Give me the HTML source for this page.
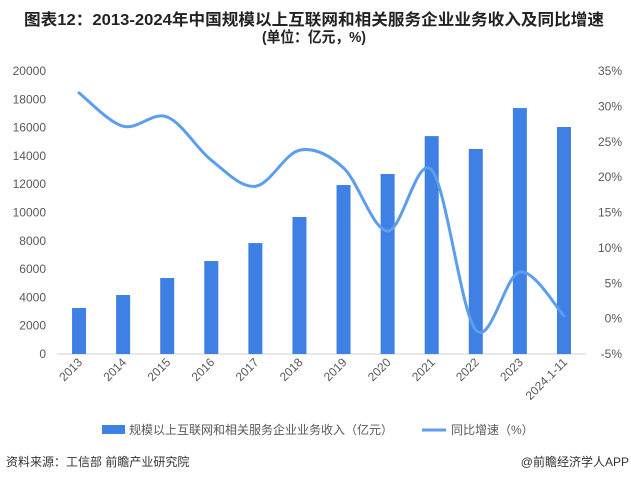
<!DOCTYPE html>
<html><head><meta charset="utf-8"><style>
body{margin:0;background:#fff;}
svg{display:block;font-family:"Liberation Sans","Noto Sans CJK SC",sans-serif;}
</style></head><body>
<svg id="chart" width="631" height="479" viewBox="0 0 631 479">
<text x="314" y="25" text-anchor="middle" font-size="16" font-weight="bold" fill="#222" textLength="580" lengthAdjust="spacingAndGlyphs">图表12：2013-2024年中国规模以上互联网和相关服务企业业务收入及同比增速</text>
<text x="314" y="42" text-anchor="middle" font-size="15" font-weight="bold" fill="#222" textLength="104" lengthAdjust="spacingAndGlyphs">(单位：亿元，%)</text>
<g id="left-axis"></g>
<g id="right-axis"></g>
<line x1="57" y1="354" x2="586" y2="354" stroke="#d0d0d0" stroke-width="1"/>
<g id="bars"></g>
<g id="line"></g>
<g id="xlabels"></g>
<g>
<rect x="102" y="425" width="23" height="9" fill="#3f80e4"/>
<text x="129" y="434" font-size="12" fill="#595959">规模以上互联网和相关服务企业业务收入（亿元）</text>
<line x1="422" y1="430" x2="446" y2="430" stroke="#5c9ded" stroke-width="3"/>
<text x="451" y="434" font-size="12" fill="#595959">同比增速（%）</text>
</g>
<text x="6" y="466" font-size="12" fill="#333">资料来源：工信部 前瞻产业研究院</text>
<text x="629" y="466" text-anchor="end" font-size="12" fill="#333">@前瞻经济学人APP</text>
</svg>
<script>
const categories=["2013","2014","2015","2016","2017","2018","2019","2020","2021","2022","2023","2024.1-11"];
const revenue=[3250,4170,5370,6570,7840,9680,11940,12720,15400,14490,17380,16040];
const growth=[31.9,27.2,28.5,22.4,18.7,23.8,21.3,12.4,21.0,-1.6,6.6,0.4];
const leftTicks=[0,2000,4000,6000,8000,10000,12000,14000,16000,18000,20000];
const rightTicks=[-5,0,5,10,15,20,25,30,35];
const NS="http://www.w3.org/2000/svg";
const yTop=71,yBot=354,x0=57,x1=586;
const yL=v=>yBot-(v/20000)*(yBot-yTop);
const yR=v=>yBot-((v+5)/40)*(yBot-yTop);
const step=(x1-x0)/categories.length;
const xC=i=>x0+step*(i+0.5);
function mk(tag,attrs,parent){const e=document.createElementNS(NS,tag);for(const k in attrs)e.setAttribute(k,attrs[k]);parent.appendChild(e);return e;}
const la=document.getElementById('left-axis');
leftTicks.forEach(t=>{const e=mk('text',{x:46,y:yL(t)+4,'text-anchor':'end','font-size':12,fill:'#595959'},la);e.textContent=t;

});
const ra=document.getElementById('right-axis');
rightTicks.forEach(t=>{const e=mk('text',{x:622,y:yR(t)+4,'text-anchor':'end','font-size':12,fill:'#595959'},ra);e.textContent=t+'%';

});
const bg=document.getElementById('bars');
revenue.forEach((v,i)=>{const r=mk('rect',{x:xC(i)-7,y:yL(v),width:14,height:yBot-yL(v),fill:'#3f80e4'},bg);

});
const pts=growth.map((v,i)=>[xC(i),yR(v)]);
let d='M'+pts[0][0]+','+pts[0][1];
for(let i=0;i<pts.length-1;i++){const p0=pts[i-1]||pts[i],p1=pts[i],p2=pts[i+1],p3=pts[i+2]||p2;const t=1/6;
d+=' C'+(p1[0]+(p2[0]-p0[0])*t)+','+(p1[1]+(p2[1]-p0[1])*t)+' '+(p2[0]-(p3[0]-p1[0])*t)+','+(p2[1]-(p3[1]-p1[1])*t)+' '+p2[0]+','+p2[1];}
const pl=mk('path',{d:d,fill:'none',stroke:'#5c9ded','stroke-width':3,'stroke-linecap':'round'},document.getElementById('line'));


const xl=document.getElementById('xlabels');
categories.forEach((c,i)=>{const x=xC(i)+4,y=363;const e=mk('text',{x:x,y:y,'text-anchor':'end','font-size':12,fill:'#595959',transform:'rotate(-45 '+x+' '+y+')'},xl);e.textContent=c;

});
</script>
</body></html>
